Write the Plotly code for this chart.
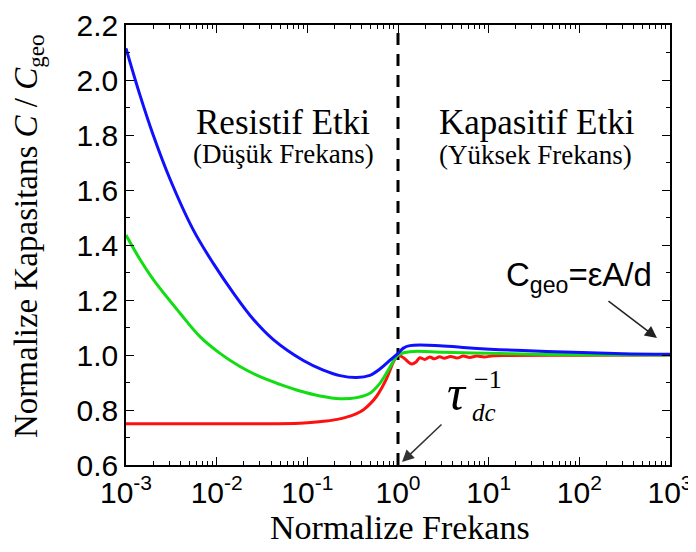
import plotly.graph_objects as go

# ---------------- data ----------------
blue_f = [0.001, 0.001426, 0.001995, 0.003055, 0.00552, 0.00918, 0.01524, 0.02535,
          0.04217, 0.09036, 0.15, 0.2291, 0.35, 0.4898, 0.631, 0.8166, 1.0,
          1.148, 1.35, 2.884, 6.76, 24, 85, 302, 1000]
blue_c = [2.115, 1.945, 1.80, 1.64, 1.455, 1.333, 1.226, 1.13,
          1.056, 0.980, 0.945, 0.925, 0.918, 0.926, 0.949, 0.981, 1.006,
          1.025, 1.034, 1.034, 1.025, 1.016, 1.01, 1.005, 1.003]

green_f = [0.001, 0.001413, 0.001995, 0.003945, 0.006546, 0.01089, 0.01807, 0.03006,
           0.04989, 0.08299, 0.138, 0.2291, 0.35, 0.4898, 0.631, 0.7816, 1.0,
           1.35, 3.16, 10, 31.6, 100, 1000]
green_c = [1.436, 1.35, 1.275, 1.152, 1.067, 1.006, 0.958, 0.921,
           0.893, 0.869, 0.851, 0.841, 0.845, 0.861, 0.897, 0.945, 1.0,
           1.012, 1.01, 1.006, 1.003, 1.001, 1.0]

red_f = [0.001, 0.0316, 0.083, 0.126, 0.162, 0.214, 0.271, 0.339, 0.413, 0.501, 0.581,
         0.661, 0.75, 0.8166, 0.891, 1.0,
         1.148, 1.413, 1.585, 1.738, 1.972, 2.239, 2.512, 2.884, 3.236, 3.802,
         4.467, 5.248, 6.166, 7.413, 8.913, 11.22, 15.85, 100, 1000]
red_c = [0.75, 0.75, 0.752, 0.756, 0.76, 0.766, 0.774, 0.785, 0.80, 0.825, 0.85,
         0.88, 0.915, 0.945, 0.975, 1.0,
         0.99, 0.967, 0.975, 0.99, 0.984, 0.993, 0.986, 0.994, 0.988, 0.995,
         0.989, 0.996, 0.991, 0.996, 0.993, 0.997, 0.998, 0.999, 1.0]

tau_position = 1.0  # normalized frequency of the dashed marker line

x_tickvals = [1e-3, 1e-2, 1e-1, 1e0, 1e1, 1e2, 1e3]
x_ticktext = ["10<sup>-3</sup>", "10<sup>-2</sup>", "10<sup>-1</sup>", "10<sup>0</sup>",
              "10<sup>1</sup>", "10<sup>2</sup>", "10<sup>3</sup>"]
y_range = [0.6, 2.2]

SERIF = "Liberation Serif"
SANS = "Liberation Sans"

fig = go.Figure()
fig.add_trace(go.Scatter(x=[tau_position, tau_position], y=y_range, mode="lines",
                         line=dict(color="black", width=3, dash="12px,9px"),
                         hoverinfo="skip", showlegend=False))
for fx, cy, col, sm in [(red_f, red_c, "#ff1010", 0.9), (green_f, green_c, "#12dd12", 1.0),
                        (blue_f, blue_c, "#1010ff", 1.0)]:
    fig.add_trace(go.Scatter(x=fx, y=cy, mode="lines",
                             line=dict(color=col, width=3, shape="spline", smoothing=sm),
                             showlegend=False))

axis_common = dict(showline=True, linecolor="black", linewidth=1.5, mirror="ticks",
                   ticks="inside", ticklen=8, tickwidth=1.3, tickcolor="black",
                   showgrid=False, zeroline=False, automargin=False,
                   ticklabeloverflow="allow",
                   tickfont=dict(family=SANS, size=30, color="black"))

fig.update_xaxes(type="log", range=[-3, 3], tickmode="array", tickvals=x_tickvals,
                 ticktext=x_ticktext,
                 minor=dict(ticks="inside", ticklen=4, tickcolor="black", tickwidth=1,
                            dtick="D1", showgrid=False),
                 **axis_common)
fig.update_yaxes(range=y_range, dtick=0.2, tick0=0.6, tickformat=".1f",
                 minor=dict(ticks="inside", ticklen=4, tickcolor="black", tickwidth=1,
                            dtick=0.1, showgrid=False),
                 **axis_common)

# plot area in page pixels (the page body adds an 8px offset)
L, T, W, H = 126, 25, 544, 440
OFF = 8


def px(x):
    return (x - L) / W


def py(y):
    return (T + H - y) / H


def label(x, y, text, family, size, angle=0):
    return dict(x=px(x), y=py(y), xref="paper", yref="paper", text=text,
                xanchor="center", yanchor="middle", textangle=angle,
                font=dict(family=family, size=size, color="black"), showarrow=False)


ann = [
    label(29, 236, "Normalize Kapasitans <i>C</i> / <i>C</i><sub>geo</sub>", SERIF, 33, -90),
    label(400, 527, "Normalize Frekans", SERIF, 34),
    label(283, 122, "Resistif Etki", SERIF, 35),
    label(283, 154, "(Düşük Frekans)", SERIF, 27),
    label(537, 122, "Kapasitif Etki", SERIF, 35),
    label(535, 155, "(Yüksek Frekans)", SERIF, 27),
    label(579, 277, "C<sub>geo</sub>=εA/d", SANS, 33),
    label(457, 393, "<i>τ</i>", SERIF, 50),
    label(484, 412, "<i>dc</i>", SERIF, 25),
    label(488, 379, "−1", SERIF, 26),
    dict(x=px(657), y=py(338), xref="paper", yref="paper", text="",
         showarrow=True, ax=-50, ay=-38, arrowhead=2, arrowsize=1.6,
         arrowwidth=1.5, arrowcolor="#222"),
    dict(x=px(402), y=py(462), xref="paper", yref="paper", text="",
         showarrow=True, ax=41, ay=-39, arrowhead=2, arrowsize=1.6,
         arrowwidth=1.5, arrowcolor="#333"),
]

FW, FH = 696 - OFF, 552 - OFF
fig.update_layout(width=FW, height=FH,
                  margin=dict(l=L - OFF, r=FW - (L - OFF) - W, t=T - OFF,
                              b=FH - (T - OFF) - H),
                  paper_bgcolor="white", plot_bgcolor="white", annotations=ann,
                  showlegend=False)

fig.write_html("out.html")
